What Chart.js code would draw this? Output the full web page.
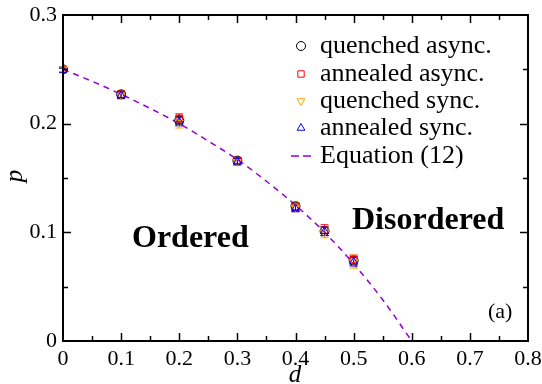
<!DOCTYPE html>
<html>
<head>
<meta charset="utf-8">
<script src="https://cdn.jsdelivr.net/npm/chart.js@4.4.0/dist/chart.umd.min.js"></script>
<style>
  html, body { margin: 0; padding: 0; background: white; }
  #wrap { width: 542px; height: 384px; }
</style>
</head>
<body>
<div id="wrap"><canvas id="c" width="542" height="384"></canvas></div>
<script>
// simulation points
const dVals = [0, 0.1, 0.2, 0.3, 0.4, 0.45, 0.5];
const quenchedAsync = [0.250, 0.227, 0.203, 0.166, 0.124, 0.101, 0.074];
const annealedAsync = [0.250, 0.227, 0.205, 0.166, 0.123, 0.102, 0.075];
const quenchedSync  = [0.250, 0.226, 0.201, 0.165, 0.123, 0.100, 0.073];
const annealedSync  = [0.249, 0.226, 0.202, 0.165, 0.122, 0.101, 0.073];
const errQA = [0.002, 0.003, 0.004, 0.003, 0.003, 0.004, 0.004];
const errAA = [0.002, 0.003, 0.004, 0.003, 0.004, 0.005, 0.004];
const errQS = [0.002, 0.003, 0.005, 0.003, 0.004, 0.005, 0.006];
const errAS = [0.002, 0.003, 0.004, 0.003, 0.003, 0.004, 0.004];

// dashed curve
const eqD = [0, 0.05, 0.1, 0.15, 0.2, 0.25, 0.3, 0.35, 0.4, 0.45, 0.5, 0.55, 0.6];
const eqP = [0.250, 0.239, 0.227, 0.214, 0.200, 0.184, 0.167, 0.147, 0.125, 0.100, 0.071, 0.038, 0.000];

const xTicks = [0, 0.1, 0.2, 0.3, 0.4, 0.5, 0.6, 0.7, 0.8];
const yTicks = [0, 0.1, 0.2, 0.3];
const legendLabels = ['quenched async.', 'annealed async.', 'quenched sync.', 'annealed sync.', 'Equation (12)'];

const SERIF = '"Liberation Serif", serif';
const PURPLE = '#9400d3';

function pts(ys) { return dVals.map((d, i) => ({ x: d, y: ys[i] })); }

const series = [
  { label: legendLabels[0], data: pts(quenchedAsync), err: errQA, color: '#000000', style: 'circle', rot: 0 },
  { label: legendLabels[1], data: pts(annealedAsync), err: errAA, color: '#ff0000', style: 'rect', rot: 0 },
  { label: legendLabels[2], data: pts(quenchedSync), err: errQS, color: '#ffa500', style: 'triangle', rot: 180 },
  { label: legendLabels[3], data: pts(annealedSync), err: errAS, color: '#0000ff', style: 'triangle', rot: 0 }
];

const datasets = series.map((s, i) => ({
  type: 'scatter',
  label: s.label,
  data: s.data,
  showLine: false,
  pointStyle: s.style,
  pointRotation: s.rot,
  pointRadius: s.style === 'rect' ? 4.5 : 4.5,
  borderColor: s.color,
  backgroundColor: 'rgba(0,0,0,0)',
  pointBorderWidth: 1,
  order: 5 - i
}));
datasets.unshift({
  type: 'line',
  label: legendLabels[4],
  data: eqD.map((d, i) => ({ x: d, y: eqP[i] })),
  borderColor: PURPLE,
  borderWidth: 1.5,
  borderDash: [6, 5],
  pointRadius: 0,
  cubicInterpolationMode: 'monotone',
  fill: false,
  order: 10
});

const decor = {
  id: 'decor',
  beforeDatasetsDraw(chart) {
    const ctx = chart.ctx, xs = chart.scales.x, ys = chart.scales.y;
    ctx.save();
    ctx.lineWidth = 1;
    series.forEach(s => {
      ctx.strokeStyle = s.color;
      s.data.forEach((p, i) => {
        const px = xs.getPixelForValue(p.x);
        const y1 = ys.getPixelForValue(p.y + s.err[i]);
        const y2 = ys.getPixelForValue(p.y - s.err[i]);
        ctx.beginPath();
        ctx.moveTo(px, y1); ctx.lineTo(px, y2);
        ctx.moveTo(px - 4, y1); ctx.lineTo(px + 4, y1);
        ctx.moveTo(px - 4, y2); ctx.lineTo(px + 4, y2);
        ctx.stroke();
      });
    });
    ctx.restore();
  },
  afterDraw(chart) {
    const ctx = chart.ctx, a = chart.chartArea, xs = chart.scales.x, ys = chart.scales.y;
    ctx.save();
    // frame
    ctx.strokeStyle = '#000';
    ctx.lineWidth = 2;
    ctx.strokeRect(a.left, a.top, a.right - a.left, a.bottom - a.top);
    // inward ticks on all four sides
    ctx.lineWidth = 1.5;
    ctx.beginPath();
    for (let v = 0.05; v < 0.8; v += 0.05) {
      const px = Math.round(xs.getPixelForValue(v)) + 0.5;
      const major = Math.abs(v * 10 - Math.round(v * 10)) < 1e-6;
      const len = major ? 8 : 5;
      ctx.moveTo(px, a.bottom); ctx.lineTo(px, a.bottom - len);
      ctx.moveTo(px, a.top); ctx.lineTo(px, a.top + len);
    }
    for (let v = 0.05; v < 0.3; v += 0.05) {
      const py = Math.round(ys.getPixelForValue(v)) + 0.5;
      const major = Math.abs(v * 10 - Math.round(v * 10)) < 1e-6;
      const len = major ? 8 : 5;
      ctx.moveTo(a.left, py); ctx.lineTo(a.left + len, py);
      ctx.moveTo(a.right, py); ctx.lineTo(a.right - len, py);
    }
    ctx.stroke();

    // axis titles
    ctx.fillStyle = '#000';
    ctx.font = 'italic 25px ' + SERIF;
    ctx.textAlign = 'center';
    ctx.textBaseline = 'alphabetic';
    ctx.fillText('d', 295, 382);
    ctx.save();
    ctx.translate(22, 176);
    ctx.rotate(-Math.PI / 2);
    ctx.fillText('p', 0, 0);
    ctx.restore();

    // region labels
    ctx.font = 'bold 32px ' + SERIF;
    ctx.textAlign = 'left';
    ctx.fillText('Ordered', 132, 247);
    ctx.fillText('Disordered', 352, 229);
    ctx.font = '22px ' + SERIF;
    ctx.fillText('(a)', 488, 318);

    // legend
    const rows = [46, 74, 101, 128, 156];
    ctx.font = '26px ' + SERIF;
    ctx.textBaseline = 'alphabetic';
    series.forEach((s, i) => {
      ctx.strokeStyle = s.color;
      ctx.fillStyle = 'rgba(0,0,0,0)';
      ctx.lineWidth = 1;
      Chart.helpers.drawPoint(ctx, { pointStyle: s.style, rotation: s.rot, radius: 4.5, borderWidth: 1 }, 301, rows[i]);
      ctx.fillStyle = '#000';
      ctx.fillText(s.label, 320, rows[i] + 7);
    });
    ctx.strokeStyle = PURPLE;
    ctx.lineWidth = 1.5;
    ctx.setLineDash([8, 4]);
    ctx.beginPath();
    ctx.moveTo(291, rows[4]); ctx.lineTo(311, rows[4]);
    ctx.stroke();
    ctx.setLineDash([]);
    ctx.fillStyle = '#000';
    ctx.fillText(legendLabels[4], 320, rows[4] + 7);
    ctx.restore();
  }
};

new Chart(document.getElementById('c'), {
  data: { datasets },
  options: {
    responsive: false,
    animation: false,
    layout: { padding: { left: 0, top: 15, right: 14, bottom: 0 } },
    plugins: { legend: { display: false }, tooltip: { enabled: false } },
    scales: {
      x: {
        type: 'linear', min: 0, max: 0.8,
        afterBuildTicks: s => { s.ticks = xTicks.map(v => ({ value: v })); },
        afterFit: s => { s.height = 43; s.paddingLeft = 0; s.paddingRight = 0; },
        grid: { display: false, drawTicks: false },
        border: { display: false },
        ticks: {
          padding: 5, color: '#000', maxRotation: 0, autoSkip: false,
          font: { family: SERIF, size: 22 },
          callback: v => String(v)
        }
      },
      y: {
        type: 'linear', min: 0, max: 0.3,
        afterBuildTicks: s => { s.ticks = yTicks.map(v => ({ value: v })); },
        afterFit: s => { s.width = 63; s.paddingTop = 0; s.paddingBottom = 0; },
        grid: { display: false, drawTicks: false },
        border: { display: false },
        ticks: {
          padding: 6, color: '#000', autoSkip: false,
          font: { family: SERIF, size: 22 },
          callback: v => String(v)
        }
      }
    }
  },
  plugins: [decor]
});
</script>
</body>
</html>
